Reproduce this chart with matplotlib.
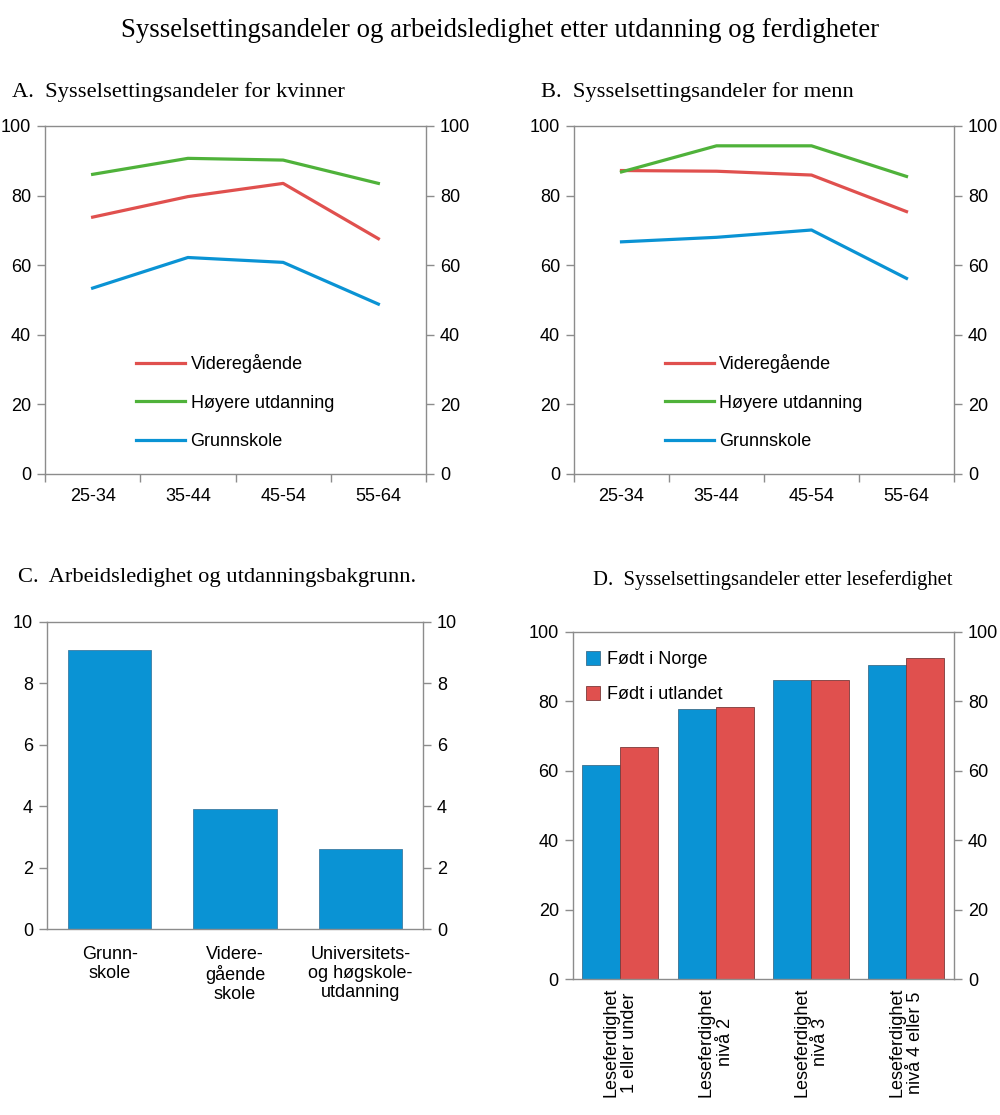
import matplotlib
matplotlib.use("Agg")
import matplotlib.pyplot as plt
import numpy as np

# data
ages = ["25-34", "35-44", "45-54", "55-64"]
kv_vgs = [73.8, 79.7, 83.5, 67.6]
kv_hoy = [86.1, 90.7, 90.2, 83.5]
kv_grunn = [53.4, 62.2, 60.8, 48.8]
menn_vgs = [87.2, 87.0, 85.9, 75.4]
menn_hoy = [86.8, 94.3, 94.3, 85.5]
menn_grunn = [66.7, 68.0, 70.1, 56.2]

utd = ["Grunn-\nskole", "Videre-\ngående\nskole", "Universitets-\nog høgskole-\nutdanning"]
ledighet = [9.1, 3.9, 2.6]

lese = ["Leseferdighet\n1 eller under", "Leseferdighet\nnivå 2", "Leseferdighet\nnivå 3", "Leseferdighet\nnivå 4 eller 5"]
fodt_norge = [61.5, 77.7, 86.0, 90.4]
fodt_utland = [66.7, 78.3, 86.2, 92.3]

RED = "#e0504e"
GREEN = "#4fb23a"
BLUE = "#0a93d4"
SPINE = "#8c8c8c"

plt.rcParams['font.family'] = ['Liberation Sans', 'DejaVu Sans']
plt.rcParams['font.size'] = 13
SERIF = ['Liberation Serif', 'DejaVu Serif']

fig = plt.figure(figsize=(10, 11.15), dpi=100)


def style(ax, ymax, step, xticks=True):
    ax.set_ylim(0, ymax)
    ax.set_yticks(np.arange(0, ymax + step / 2, step))
    for s in ax.spines.values():
        s.set_color(SPINE)
        s.set_linewidth(1.0)
    ax.yaxis.set_ticks_position('both')
    ax.tick_params(axis='y', which='both', direction='out', length=6, width=1.0,
                   color=SPINE, labelright=True, pad=4)
    if xticks:
        ax.tick_params(axis='x', direction='out', length=6, width=1.0, color=SPINE, pad=6)
    else:
        ax.tick_params(axis='x', length=0, pad=10)


def line_panel(rect, vgs, hoy, grunn, title, leg_x):
    ax = fig.add_axes(rect)
    x = np.arange(len(ages))
    ax.plot(x, vgs, color=RED, lw=2.3, label="Videregående")
    ax.plot(x, hoy, color=GREEN, lw=2.3, label="Høyere utdanning")
    ax.plot(x, grunn, color=BLUE, lw=2.3, label="Grunnskole")
    ax.set_xlim(-0.5, len(ages) - 0.5)
    ax.set_xticks(np.arange(-0.5, len(ages), 1.0))
    ax.set_xticklabels([])
    ax.set_xticks(x, minor=True)
    ax.set_xticklabels(ages, minor=True)
    ax.tick_params(axis='x', which='minor', length=0, pad=10)
    style(ax, 100, 20)
    ax.legend(loc='upper left', bbox_to_anchor=(leg_x, 0.345), frameon=False,
              handlelength=2.7, handletextpad=0.3, labelspacing=1.2,
              borderpad=0, borderaxespad=0)
    fig.text(rect[0] - 0.033, 0.913, title, family=SERIF, fontsize=16.2, va='baseline')
    return ax


fig.text(0.5, 0.967, "Sysselsettingsandeler og arbeidsledighet etter utdanning og ferdigheter",
         family=SERIF, fontsize=19.3, ha='center', va='baseline')

line_panel([0.045, 0.575, 0.381, 0.312], kv_vgs, kv_hoy, kv_grunn,
           "A.  Sysselsettingsandeler for kvinner", 0.24)
line_panel([0.574, 0.575, 0.380, 0.312], menn_vgs, menn_hoy, menn_grunn,
           "B.  Sysselsettingsandeler for menn", 0.24)

# C
axc = fig.add_axes([0.047, 0.1666, 0.376, 0.2756])
xc = np.arange(len(utd))
axc.bar(xc, ledighet, width=0.667, color=BLUE, edgecolor="#3d7ca3", linewidth=0.6)
axc.set_xlim(-0.5, len(utd) - 0.5)
axc.set_xticks(xc)
axc.set_xticklabels(utd, linespacing=1.15, va='top')
style(axc, 10, 2, xticks=False)
axc.tick_params(axis='x', pad=12)
fig.text(0.018, 0.478, "C.  Arbeidsledighet og utdanningsbakgrunn.", family=SERIF,
         fontsize=16.2, va='baseline')

# D
axd = fig.add_axes([0.5727, 0.1217, 0.3813, 0.3118])
xd = np.arange(len(lese))
bw = 0.4
axd.bar(xd - bw / 2, fodt_norge, width=bw, color=BLUE, edgecolor="#3d6f8c",
        linewidth=0.6, label="Født i Norge")
axd.bar(xd + bw / 2, fodt_utland, width=bw, color=RED, edgecolor="#7a3a3a",
        linewidth=0.6, label="Født i utlandet")
axd.set_xlim(-0.5, len(lese) - 0.5)
axd.set_xticks(xd)
axd.set_xticklabels(lese, rotation=90, linespacing=1.15, va='top', ha='center')
style(axd, 100, 20, xticks=False)
axd.tick_params(axis='x', pad=6)
axd.legend(loc='upper left', bbox_to_anchor=(0.035, 0.945), frameon=False,
           handlelength=0.8, handleheight=0.8, handletextpad=0.35, labelspacing=1.0,
           borderpad=0, borderaxespad=0)
fig.text(0.593, 0.475, "D.  Sysselsettingsandeler etter leseferdighet", family=SERIF,
         fontsize=14.9, va='baseline')

fig.savefig("out.png", dpi=100, facecolor='white')
